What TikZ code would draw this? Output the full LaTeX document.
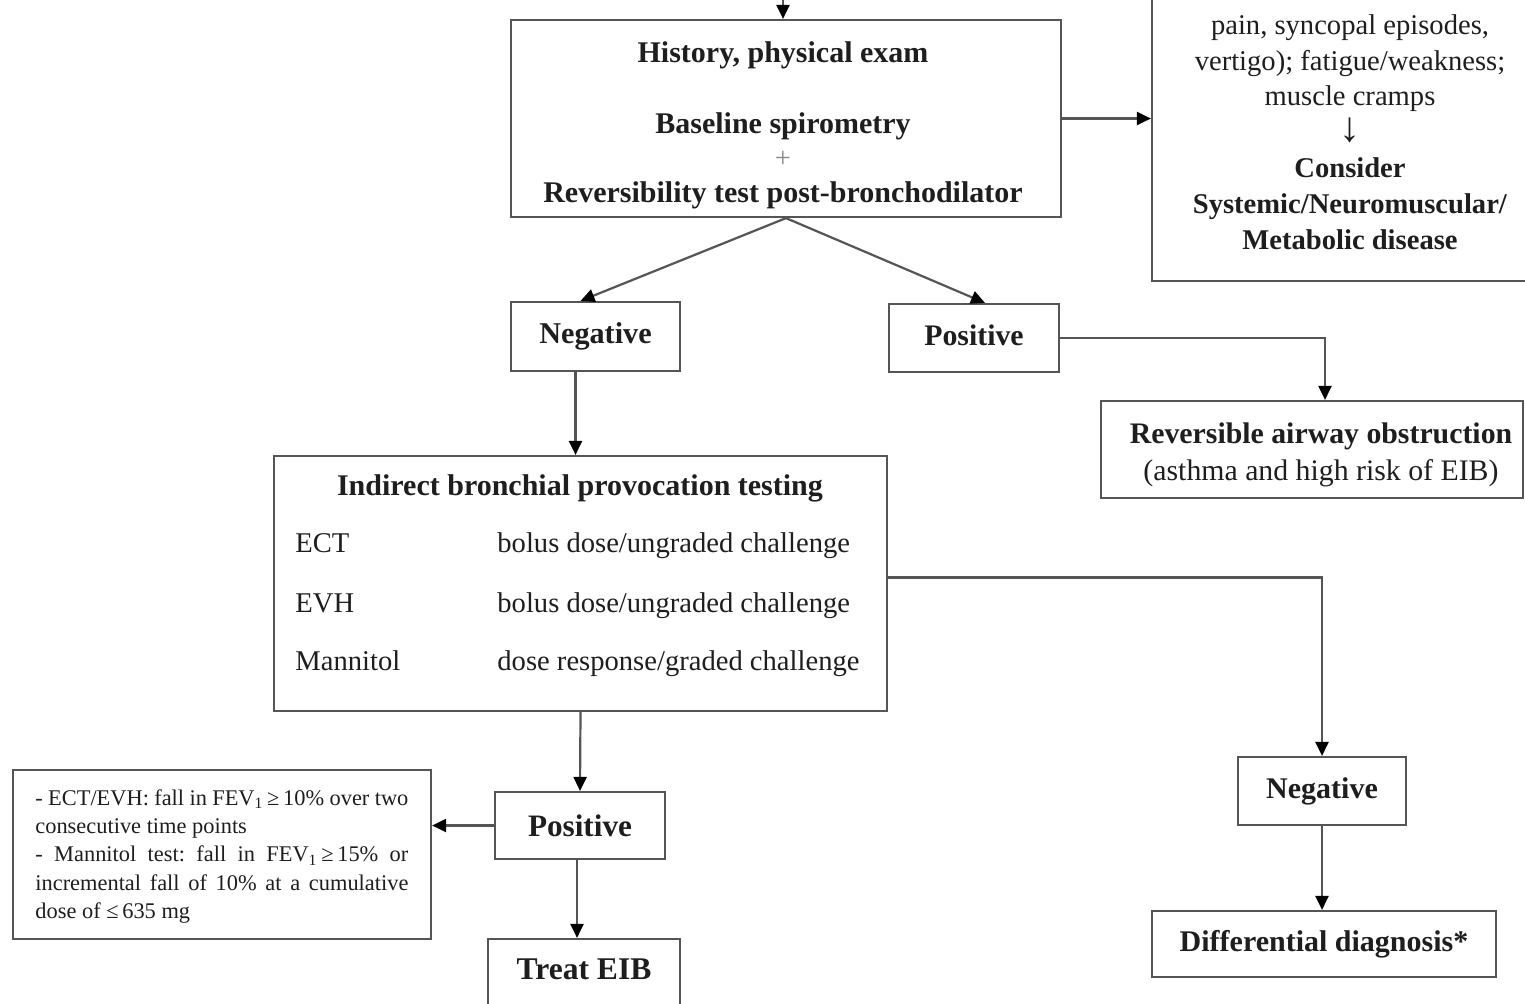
\documentclass[tikz,border=0pt]{standalone}
\usepackage{fontspec}
\setmainfont{Liberation Serif}
\usetikzlibrary{arrows.meta,calc}
\definecolor{ln}{HTML}{555555}
\definecolor{tx}{HTML}{1E1E1E}
\definecolor{plus}{HTML}{8A8A8A}
\frenchspacing
\begin{document}
\begin{tikzpicture}[x=0.5pt,y=-0.5pt,
  box/.style={draw=ln, line width=1.1pt, inner sep=0pt, align=center, text=tx},
  conn/.style={draw=ln, line width=1.1pt, -{Triangle[length=7pt,width=6.5pt,color=black]}},
  bt/.style={font=\fontsize{15}{18}\selectfont\bfseries, text=tx, inner sep=0pt, align=center},
  rt/.style={font=\fontsize{14.3}{18}\selectfont, text=tx, inner sep=0pt, align=center}
]
\useasboundingbox (0,0) rectangle (1525,1003);
\clip (0,0) rectangle (1525,1003);
\fill[white] (0,0) rectangle (1525,1003);

% main box
\node[box, minimum width=275pt, minimum height=98.5pt] (b1) at (786,118.5) {};
\node[bt] (b1t1) at (783,55) {History, physical exam};
\node[bt] (b1t2) at (783,126) {Baseline spirometry};
\node[rt, text=plus] (b1t3) at (783,159) {+};
\node[bt] (b1t4) at (783,195) {Reversibility test post-bronchodilator};

% right box (cropped)
\node[box, minimum width=194pt, minimum height=150.5pt] (rb) at (1346,130.5) {};
\node[rt, font=\fontsize{14.3}{17.9}\selectfont] (rbt) at (1350,132) {pain, syncopal episodes,\\vertigo); fatigue/weakness;\\muscle cramps\\{\fontsize{21}{17.9}\selectfont ↓}\\\textbf{Consider}\\\textbf{Systemic/Neuromuscular/}\\\textbf{Metabolic disease}};

% first level
\node[box, minimum width=84.5pt, minimum height=34.5pt, font=\fontsize{15.1}{18}\selectfont\bfseries] (neg1) at (595.5,336.5) {Negative};
\node[box, minimum width=85pt, minimum height=34pt] (pos1) at (974,338) {};
\node[bt, font=\fontsize{14.9}{18}\selectfont\bfseries] (pos1t) at (974,335) {Positive};

\node[box, minimum width=211pt, minimum height=48.5pt] (rev) at (1312,449.5) {};
\node[rt, font=\fontsize{14.9}{18.5}\selectfont] (revt) at (1321,455) {\textbf{Reversible airway obstruction}\\(asthma and high risk of EIB)};

% indirect testing box
\node[box, minimum width=306.5pt, minimum height=127.5pt] (ind) at (580.5,583.5) {};
\node[bt] (indt) at (580,488) {Indirect bronchial provocation testing};
\node[rt, anchor=base west] (r1a) at (295,552) {ECT};
\node[rt, anchor=base west] (r1b) at (497,552) {bolus dose/ungraded challenge};
\node[rt, anchor=base west] (r2a) at (295,612) {EVH};
\node[rt, anchor=base west] (r2b) at (497,612) {bolus dose/ungraded challenge};
\node[rt, anchor=base west] (r3a) at (295,670) {Mannitol};
\node[rt, anchor=base west] (r3b) at (497,670) {dose response/graded challenge};

% lower nodes
\node[box, minimum width=85pt, minimum height=33.5pt, font=\fontsize{15.6}{18}\selectfont\bfseries] (pos2) at (580,825.5) {Positive};
\node[box, minimum width=209pt, minimum height=84.5pt] (crit) at (222,854.5) {};
\node[font=\fontsize{11.2}{14.2}\selectfont, text=tx, text width=186.5pt, align=justify, anchor=north west, inner sep=0pt] (critt) at (35,789) {- ECT/EVH: fall in FEV\textsubscript{1}\,≥\,10\% over two\linebreak consecutive time points\par - Mannitol test: fall in FEV\textsubscript{1}\,≥\,15\% or\linebreak incremental fall of 10\% at a cumulative\linebreak dose of ≤\,635 mg};

\node[box, minimum width=96pt, minimum height=38pt] (treat) at (584,977) {};
\node[font=\fontsize{15.8}{18}\selectfont\bfseries, text=tx, inner sep=0pt] (treatt) at (584,969) {Treat EIB};

\node[box, minimum width=84pt, minimum height=34pt, font=\fontsize{15}{18}\selectfont\bfseries] (neg2) at (1322,791) {Negative};
\node[box, minimum width=172pt, minimum height=33pt, font=\fontsize{15}{18}\selectfont\bfseries] (diff) at (1324,944) {Differential diagnosis*};

% connectors
\coordinate (top) at (783,-10);
\draw[conn] (top) -- (top |- b1.north);
\draw[conn] (b1.east) -- (b1.east -| rb.west);
\draw[conn] (b1.south) -- ($(neg1.north)+(-15,0)$);
\draw[conn] (b1.south) -- ($(pos1.north)+(11,0)$);
\coordinate (revin) at ($(rev.north)+(13,0)$);
\draw[conn] (pos1.east) -| (revin);
\coordinate (n1s) at ($(neg1.south)+(-20,0)$);
\draw[conn] (n1s) -- (n1s |- ind.north);
\draw[conn] ($(ind.east)+(0,-6)$) -| (neg2.north);
\draw[conn] (ind.south) -- (pos2.north);
\draw[conn] (pos2.west) -- (pos2.west -| crit.east);
\coordinate (p2s) at ($(pos2.south)+(-3,0)$);
\draw[conn] (p2s) -- (p2s |- treat.north);
\draw[conn] (neg2.south) -- (neg2.south |- diff.north);
\end{tikzpicture}
\end{document}
